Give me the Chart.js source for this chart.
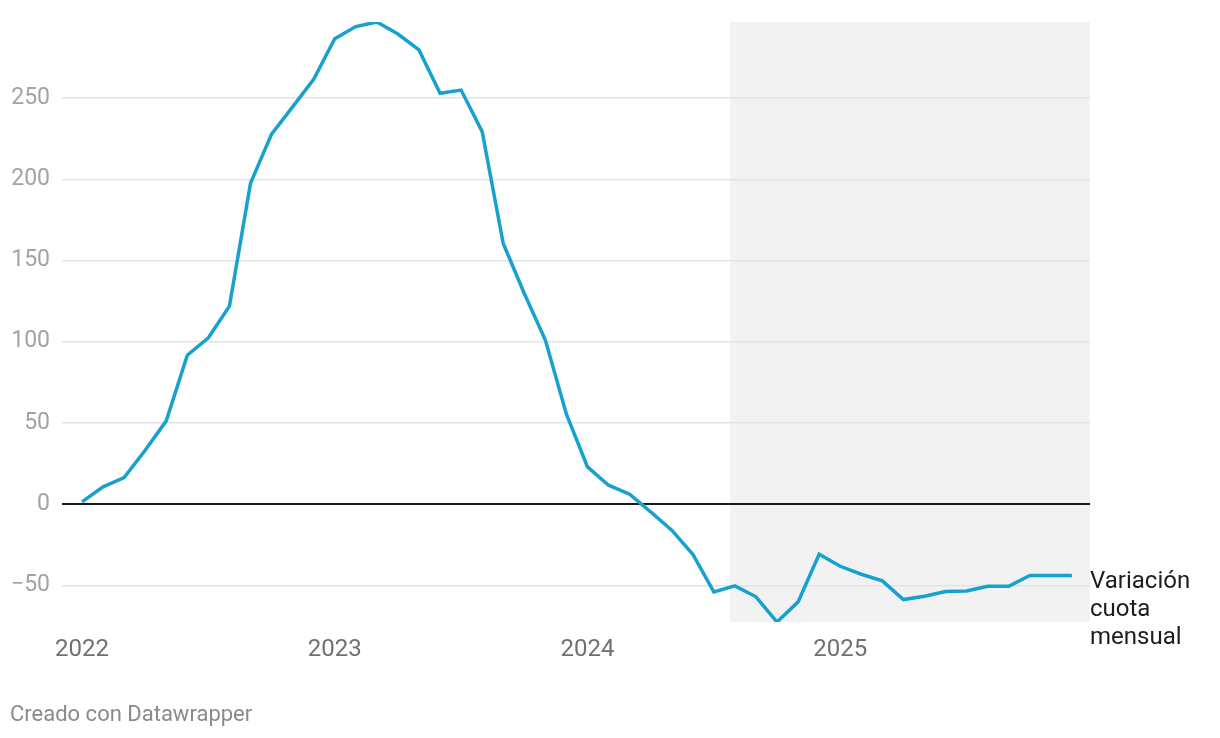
<!DOCTYPE html>
<html>
<head>
<meta charset="utf-8">
<script src="https://cdn.jsdelivr.net/npm/chart.js@4/dist/chart.umd.min.js"></script>
<style>
  html, body { margin: 0; padding: 0; background: #fff; }
  #wrap { width: 1220px; height: 738px; position: relative; }
</style>
</head>
<body>
<div id="wrap"><canvas id="grafico"></canvas></div>
<script>
// --- DATOS ---
// meses desde enero 2022 (0) hasta diciembre 2025 (47)
const meses = ['2022-01','2022-02','2022-03','2022-04','2022-05','2022-06','2022-07','2022-08','2022-09','2022-10','2022-11','2022-12',
  '2023-01','2023-02','2023-03','2023-04','2023-05','2023-06','2023-07','2023-08','2023-09','2023-10','2023-11','2023-12',
  '2024-01','2024-02','2024-03','2024-04','2024-05','2024-06','2024-07','2024-08','2024-09','2024-10','2024-11','2024-12',
  '2025-01','2025-02','2025-03','2025-04','2025-05','2025-06','2025-07','2025-08','2025-09','2025-10','2025-11','2025-12'];
const variacionCuota = [1.4, 10.7, 16.4, 33.2, 51.3, 91.7, 102.4, 121.9, 197.5, 227.8, 244.6, 261.5,
  286.5, 294, 296.8, 289.4, 279.6, 252.9, 254.9, 229.3, 160.5, 129.7, 101, 55.4,
  23, 11.7, 6.2, -4.7, -16, -30.8, -54, -50.3, -57, -72.5, -60.1, -30.8,
  -38.2, -43.1, -47.2, -58.7, -56.7, -53.8, -53.4, -50.5, -50.5, -43.9, -43.9, -43.9];
const etiquetasAnio = ['2022', '2023', '2024', '2025'];
const ticksX = [0, 12, 24, 36];
const ticksY = [-50, 0, 50, 100, 150, 200, 250];
const zonaSombreada = [30.77, 47.86]; // finales de julio 2024 hasta fin del gráfico
const etiquetaSerie = ['Variación', 'cuota', 'mensual'];
const credito = 'Creado con Datawrapper';

const FUENTE = 'Roboto, "Noto Sans", sans-serif';

// --- PLUGINS ---
const sombreado = {
  id: 'sombreado',
  beforeDraw(chart) {
    const { ctx, chartArea, scales } = chart;
    const x0 = scales.x.getPixelForValue(zonaSombreada[0]);
    const x1 = scales.x.getPixelForValue(zonaSombreada[1]);
    ctx.save();
    ctx.fillStyle = '#f2f2f2';
    ctx.fillRect(x0, chartArea.top, x1 - x0, chartArea.bottom - chartArea.top);
    ctx.restore();
  }
};

const textos = {
  id: 'textos',
  afterDraw(chart) {
    const { ctx, chartArea, scales } = chart;
    const ultimo = variacionCuota.length - 1;
    const y = scales.y.getPixelForValue(variacionCuota[ultimo]);
    ctx.save();
    ctx.font = '24px ' + FUENTE;
    ctx.fillStyle = '#1d1d1d';
    ctx.textAlign = 'left';
    ctx.textBaseline = 'middle';
    etiquetaSerie.forEach((linea, i) => {
      ctx.fillText(linea, chartArea.right, y + 6 + i * 28);
    });
    ctx.font = '22px ' + FUENTE;
    ctx.fillStyle = '#8a8a8a';
    ctx.fillText(credito, 10, 715);
    ctx.restore();
  }
};

// --- GRÁFICO ---
const ctx = document.getElementById('grafico').getContext('2d');
new Chart(ctx, {
  type: 'line',
  data: {
    labels: meses,
    datasets: [{
      label: 'Variación cuota mensual',
      data: variacionCuota.map((v, i) => ({ x: i, y: v })),
      borderColor: '#18a1d0',
      borderWidth: 3.5,
      pointRadius: 0,
      tension: 0,
      fill: false
    }]
  },
  options: {
    responsive: true,
    maintainAspectRatio: false,
    animation: false,
    layout: { padding: { top: 22, right: 130, left: 0, bottom: 0 } },
    plugins: { legend: { display: false }, tooltip: { enabled: false } },
    scales: {
      x: {
        type: 'linear',
        min: -0.95,
        max: zonaSombreada[1],
        border: { display: false },
        grid: { display: false, drawTicks: false },
        afterBuildTicks: (eje) => { eje.ticks = ticksX.map(v => ({ value: v })); },
        afterFit: (eje) => { eje.height = 116; },
        ticks: {
          padding: 14,
          maxRotation: 0,
          autoSkip: false,
          color: '#707070',
          font: { family: FUENTE, size: 24 },
          callback: (v) => etiquetasAnio[ticksX.indexOf(v)]
        }
      },
      y: {
        min: -72.5,
        max: 296.8,
        border: { display: false },
        afterBuildTicks: (eje) => { eje.ticks = ticksY.map(v => ({ value: v })); },
        afterFit: (eje) => { eje.width = 62; eje.paddingTop = 0; eje.paddingBottom = 0; },
        grid: {
          drawTicks: false,
          color: (c) => c.tick && c.tick.value === 0 ? '#1a1a1a' : '#e3e3e3',
          lineWidth: (c) => c.tick && c.tick.value === 0 ? 2 : 1.5
        },
        ticks: {
          padding: 12,
          color: '#a3a3a3',
          font: { family: FUENTE, size: 23 },
          callback: (v) => String(v).replace('-', '\u2212')
        }
      }
    }
  },
  plugins: [sombreado, textos]
});
</script>
</body>
</html>
